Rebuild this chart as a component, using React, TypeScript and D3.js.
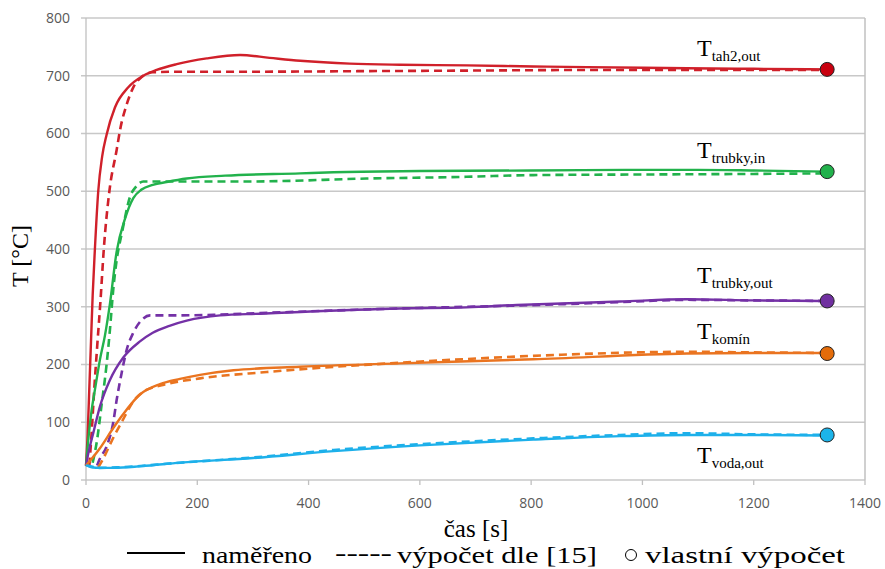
import React from 'react';
import * as d3 from 'd3';

type Pt = [number, number];

// naměřeno (solid)
const tahMeasured: Pt[] = [[0, 25], [3, 80], [6, 160], [9, 240], [12, 320], [16, 400], [22, 500], [29, 560], [37, 598], [52, 645], [76, 680], [103, 700], [127, 710], [163, 720], [217, 730], [277, 736], [330, 731], [385, 726], [474, 721], [564, 719], [684, 718], [804, 716], [900, 715], [1080, 713], [1200, 712], [1332, 711]];
const trubkyInMeasured: Pt[] = [[0, 25], [4, 69], [10, 120], [16, 156], [25, 208], [34, 250], [43, 305], [55, 395], [70, 452], [85, 488], [100, 503], [120, 511], [145, 516], [181, 522], [250, 527], [385, 531], [445, 533], [600, 535], [800, 536], [1000, 537], [1100, 537], [1200, 536], [1332, 534]];
const trubkyOutMeasured: Pt[] = [[0, 25], [5, 50], [13, 81], [25, 127], [43, 173], [67, 212], [97, 240], [120, 255], [150, 267], [181, 276], [241, 285], [313, 288], [385, 291], [564, 297], [684, 299], [774, 303], [960, 309], [1080, 313], [1200, 311], [1332, 310]];
const kominMeasured: Pt[] = [[0, 25], [25, 55], [49, 90], [66, 113], [97, 148], [133, 166], [169, 175], [205, 182], [265, 190], [385, 196], [564, 202], [804, 209], [1080, 219], [1200, 220], [1332, 220]];
const vodaMeasured: Pt[] = [[0, 26], [10, 22], [25, 21], [50, 21], [100, 24], [169, 30], [300, 38], [445, 50], [600, 60], [804, 70], [960, 76], [1080, 78], [1200, 78], [1332, 77]];

// výpočet dle [15] (dashed)
const tahCalc: Pt[] = [[6, 25], [10, 80], [15, 160], [20, 230], [26, 310], [32, 400], [42, 500], [55, 571], [62, 610], [73, 650], [85, 680], [100, 698], [120, 706], [160, 707], [300, 707], [500, 708], [700, 709], [900, 710], [1100, 710], [1332, 710]];
const trubkyInCalc: Pt[] = [[12, 30], [20, 70], [28, 130], [37, 200], [43, 260], [49, 330], [55, 380], [65, 430], [79, 490], [90, 508], [103, 517], [150, 517], [300, 517], [504, 522], [684, 525], [804, 528], [1000, 529], [1200, 530], [1332, 531]];
const trubkyOutCalc: Pt[] = [[20, 25], [24, 35], [37, 58], [49, 100], [55, 138], [64, 185], [73, 225], [85, 255], [100, 277], [115, 285], [150, 285], [229, 286], [313, 289], [400, 292], [564, 297], [684, 300], [774, 302], [960, 308], [1080, 312], [1200, 311], [1332, 310]];
const kominCalc: Pt[] = [[22, 22], [30, 35], [40, 55], [50, 75], [64, 100], [85, 136], [103, 153], [140, 165], [205, 176], [325, 187], [445, 196], [564, 203], [804, 215], [1080, 222], [1200, 221], [1332, 220]];
const vodaCalc: Pt[] = [[0, 26], [25, 21], [60, 22], [169, 30], [300, 39], [445, 52], [600, 62], [804, 72], [960, 78], [1080, 81], [1200, 79], [1332, 78]];

// vlastní výpočet (circles)
const ownTime = 1332;
const ownValues = [711, 534, 310, 219, 78];

const seriesNames = ['tah2,out', 'trubky,in', 'trubky,out', 'komín', 'voda,out'];
const lineColors = ['#D0202A', '#22B24C', '#7431A6', '#EA7420', '#1DB0EA'];
const dotColors = ['#C8000F', '#22B14C', '#7030A0', '#E46C0A', '#1CB4EA'];
const measured = [tahMeasured, trubkyInMeasured, trubkyOutMeasured, kominMeasured, vodaMeasured];
const calculated = [tahCalc, trubkyInCalc, trubkyOutCalc, kominCalc, vodaCalc];
const labelDy = [-13, -14, -18, -15, 28];

const xTicks = [0, 200, 400, 600, 800, 1000, 1200, 1400];
const yTicks = [0, 100, 200, 300, 400, 500, 600, 700, 800];

const W = 885;
const H = 569;

export default function App() {
  const x = d3.scaleLinear().domain([0, 1400]).range([86, 865]);
  const y = d3.scaleLinear().domain([0, 800]).range([480, 18]);
  const line = d3.line<Pt>()
    .x(d => x(d[0]))
    .y(d => y(d[1]))
    .curve(d3.curveMonotoneX);

  const tickFont = { fontFamily: 'Open Sans, sans-serif', fontSize: 14, fill: '#595959' };
  const serif = 'Liberation Serif, Times New Roman, Times, serif';

  return (
    <svg width={W} height={H} style={{ position: 'absolute', left: 0, top: 0, background: '#fff' }}>
      {/* grid */}
      {yTicks.map(t => (
        <g key={'y' + t}>
          <line x1={x(0) - 5} x2={x(1400)} y1={y(t)} y2={y(t)} stroke="#c8c8c8" strokeWidth={1.3} />
          <text x={70} y={y(t)} dy="0.35em" textAnchor="end" {...tickFont}>{t}</text>
        </g>
      ))}
      <line x1={x(0)} x2={x(0)} y1={y(800)} y2={y(0)} stroke="#c0c0c0" strokeWidth={1.3} />
      <line x1={x(1400)} x2={x(1400)} y1={y(800)} y2={y(0)} stroke="#c0c0c0" strokeWidth={1.5} />
      {xTicks.map(t => (
        <g key={'x' + t}>
          <line x1={x(t)} x2={x(t)} y1={y(0)} y2={y(0) + 5} stroke="#c0c0c0" strokeWidth={1.3} />
          <text x={x(t)} y={503} dy="0.35em" textAnchor="middle" {...tickFont}>{t}</text>
        </g>
      ))}

      {/* dashed calculated */}
      {calculated.map((s, i) => (
        <path key={'c' + i} d={line(s) || ''} fill="none" stroke={lineColors[i]}
          strokeWidth={2.6} strokeDasharray="8,5" />
      ))}
      {/* solid measured */}
      {measured.map((s, i) => (
        <path key={'m' + i} d={line(s) || ''} fill="none" stroke={lineColors[i]} strokeWidth={2.4} />
      ))}
      {/* own calculation */}
      {ownValues.map((v, i) => (
        <circle key={'o' + i} cx={x(ownTime)} cy={y(v)} r={7} fill={dotColors[i]} stroke="#222" strokeWidth={1} />
      ))}
      {/* series labels */}
      {ownValues.map((v, i) => (
        <text key={'l' + i} x={697} y={y(v) + labelDy[i]} style={{ fontFamily: serif }} fontSize={24} fill="#000">
          T<tspan fontSize={15} dy={5}>{seriesNames[i]}</tspan>
        </text>
      ))}

      {/* axis titles */}
      <text transform="translate(28,256) rotate(-90)" textAnchor="middle" style={{ fontFamily: serif }} fontSize={24} fill="#000">T [°C]</text>
      <text x={476} y={537} textAnchor="middle" style={{ fontFamily: serif }} fontSize={25} fill="#000">čas [s]</text>

      {/* legend */}
      <g style={{ fontFamily: serif }} fontSize={24} fill="#000">
        <line x1={127} x2={185} y1={553} y2={553} stroke="#000" strokeWidth={2.2} />
        <text x={202} y={563} textLength={110} lengthAdjust="spacingAndGlyphs">naměřeno</text>
        <text x={335} y={561} textLength={57} lengthAdjust="spacingAndGlyphs">-----</text>
        <text x={397} y={563} textLength={200} lengthAdjust="spacingAndGlyphs">výpočet dle [15]</text>
        <circle cx={631} cy={555} r={5.5} fill="none" stroke="#000" strokeWidth={1} />
        <text x={645} y={563} textLength={200} lengthAdjust="spacingAndGlyphs">vlastní výpočet</text>
      </g>
    </svg>
  );
}
